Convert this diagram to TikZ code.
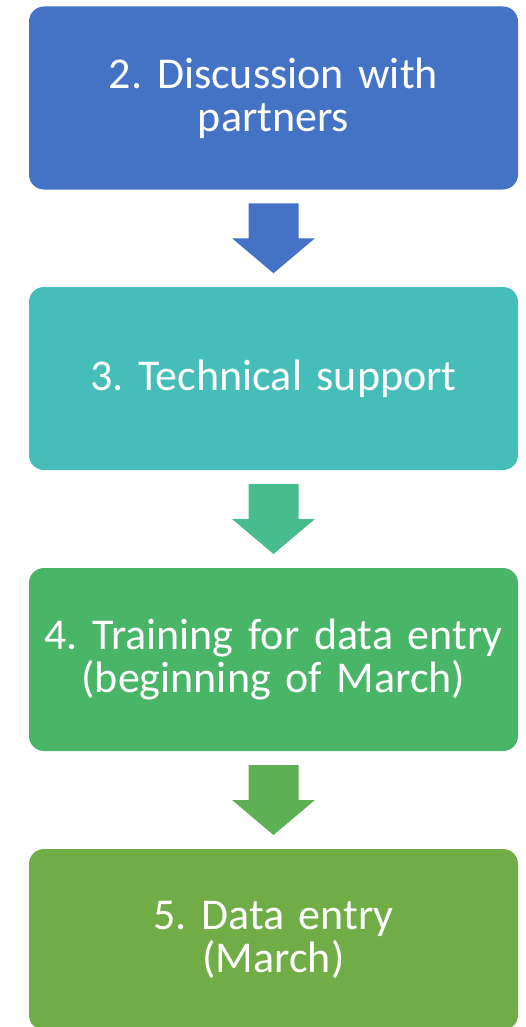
\documentclass[tikz,border=0pt]{standalone}
\usepackage{fontspec}
\setmainfont{Carlito}
\usepackage{tikz}
\usetikzlibrary{positioning, calc}

\definecolor{stepblue}{HTML}{4472C4}
\definecolor{stepteal}{HTML}{45BDB8}
\definecolor{stepgreen}{HTML}{48B567}
\definecolor{stepolive}{HTML}{70AD47}
\definecolor{arrowteal}{HTML}{47BC8F}
\definecolor{arrowgreen}{HTML}{5DB154}

\begin{document}
\frenchspacing
\begin{tikzpicture}[x=1pt, y=1pt,
      stage/.style={rectangle, rounded corners=15pt, inner sep=0pt, minimum width=489pt,
        minimum height=183pt, text=white, align=center, text width=480pt,
        font=\fontsize{44}{43}\selectfont}]

      \useasboundingbox (0,0) rectangle (526,-1027);
      \clip (0,0) rectangle (526,-1027);

      % Stages
      \node[stage, fill=stepblue] (talk) at (273.5,-98) {2. Discussion with\\partners};
      \node[stage, fill=stepteal] (tech) at (273.5,-378.5) {3. Technical support};
      \node[stage, fill=stepgreen] (train) at (273.5,-659.5) {4. Training for data entry\\(beginning of March)};
      \node[stage, fill=stepolive, minimum height=181pt] (entry) at (273.5,-939.5) {5. Data entry\\(March)};

      % Block arrows between stages
      \foreach \from/\to/\col in {talk/tech/stepblue, tech/train/arrowteal, train/entry/arrowgreen} {
        \coordinate (mid) at ($(\from.south)!0.5!(\to.north)$);
        \fill[\col] ($(mid)+(-25,35)$) -- ++(50,0) -- ++(0,-35) -- ++(16.5,0)
          -- ($(mid)+(0,-35)$) -- ($(mid)+(-41.5,0)$) -- ++(16.5,0) -- cycle;
      }
    \end{tikzpicture}
\end{document}
